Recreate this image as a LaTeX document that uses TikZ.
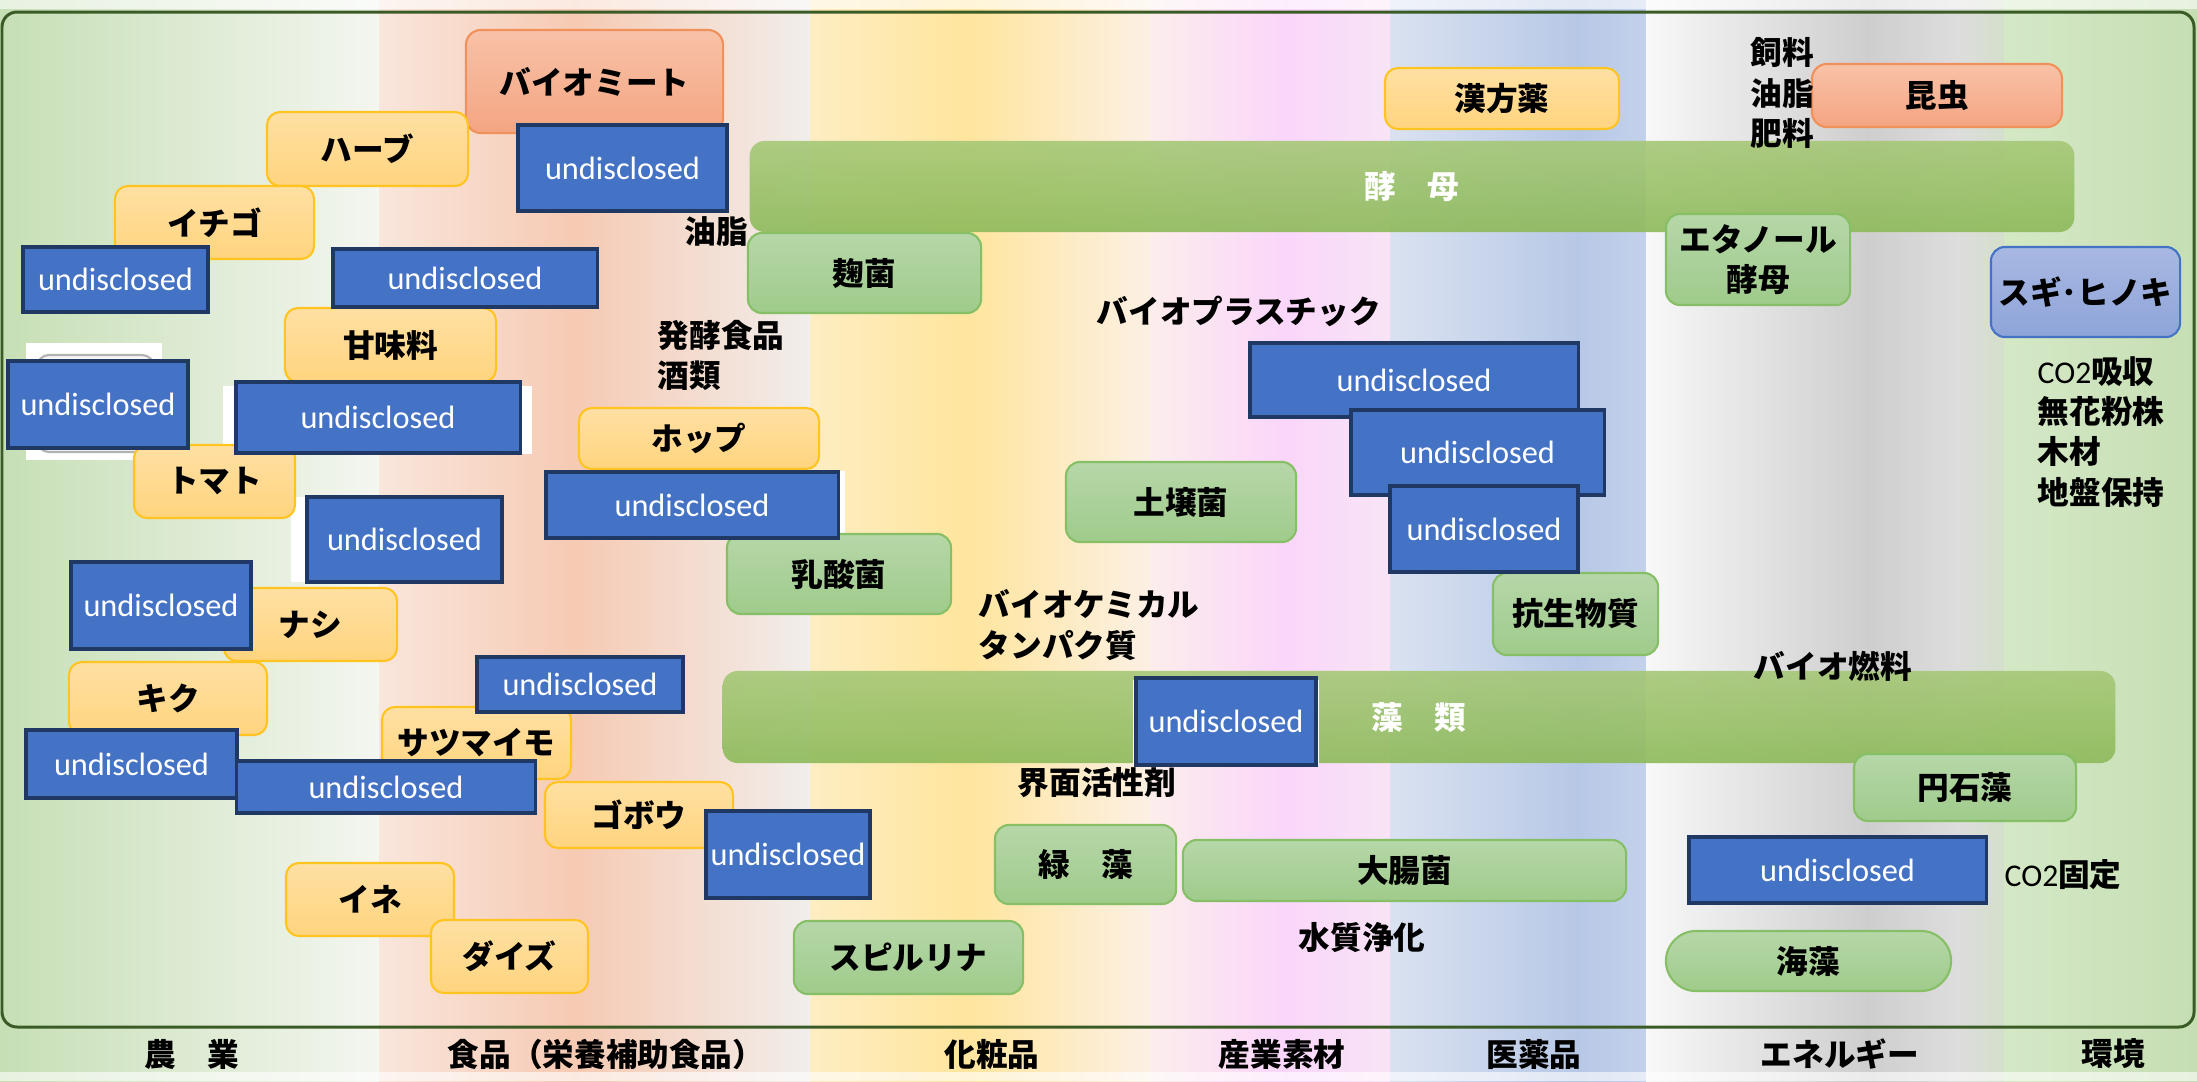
\documentclass[tikz,border=0pt]{standalone}
\usepackage{fontspec}
\setmainfont{Noto Sans CJK JP}
\newfontfamily\latinfont{Carlito}
\usepackage{tikz}

\definecolor{b1a}{HTML}{C6DFB5}\definecolor{b1b}{HTML}{F4F6F0}
\definecolor{b2a}{HTML}{F9E6DC}\definecolor{b2b}{HTML}{F6CAB3}
\definecolor{b3a}{HTML}{F6CAB3}\definecolor{b3b}{HTML}{F1EEEB}
\definecolor{b4a}{HTML}{FDEDC2}\definecolor{b4b}{HTML}{FFE59D}
\definecolor{b5a}{HTML}{FFE59D}\definecolor{b5b}{HTML}{FCF0E4}
\definecolor{b6a}{HTML}{FCEDEC}\definecolor{b6b}{HTML}{FAD6FA}
\definecolor{b7a}{HTML}{FAD6FA}\definecolor{b7b}{HTML}{F8E4F6}
\definecolor{b8a}{HTML}{DAE2F1}\definecolor{b8b}{HTML}{B7C8E6}
\definecolor{b9a}{HTML}{B7C8E6}\definecolor{b9b}{HTML}{C3D1EB}
\definecolor{b10a}{HTML}{F8F8F8}\definecolor{b10b}{HTML}{CECECE}
\definecolor{b11a}{HTML}{CECECE}\definecolor{b11b}{HTML}{DDDDDD}
\definecolor{b12a}{HTML}{DDDDDD}\definecolor{b12b}{HTML}{D4DFCB}
\definecolor{b13a}{HTML}{D4E8C6}\definecolor{b13b}{HTML}{C6DEB3}
\definecolor{ytop}{HTML}{FFE0A3}\definecolor{ybot}{HTML}{FFD47E}\definecolor{ydraw}{HTML}{FFC41F}
\definecolor{stop}{HTML}{F8C2A8}\definecolor{sbot}{HTML}{F4A582}\definecolor{sdraw}{HTML}{F0905A}
\definecolor{gtop}{HTML}{B6D7A8}\definecolor{gbot}{HTML}{9FCB8B}\definecolor{gdraw}{HTML}{86BF65}
\definecolor{bartop}{HTML}{A6C877}\definecolor{barbot}{HTML}{8DBA5A}
\definecolor{ufill}{HTML}{4472C4}\definecolor{udraw}{HTML}{1F3864}
\definecolor{ctop}{HTML}{A8B8E2}\definecolor{cbot}{HTML}{8EA4D9}
\definecolor{framec}{HTML}{3B5B26}

\begin{document}
\begin{tikzpicture}[x=0.01cm,y=-0.01cm,font=\fontsize{9}{11.4}\selectfont\bfseries]
\tikzstyle{ybox}=[draw=ydraw,line width=0.6pt,rounded corners=0.13cm,top color=ytop,bottom color=ybot,inner sep=0pt]
\tikzstyle{sbox}=[draw=sdraw,line width=0.6pt,rounded corners=0.15cm,top color=stop,bottom color=sbot,inner sep=0pt]
\tikzstyle{gbox}=[draw=gdraw,line width=0.6pt,rounded corners=0.14cm,top color=gtop,bottom color=gbot,inner sep=0pt,align=center]
\tikzstyle{bar}=[rounded corners=0.15cm,top color=bartop,bottom color=barbot,opacity=0.9,text opacity=1,text=white,inner sep=0pt]
\tikzstyle{ubox}=[draw=udraw,line width=0.9pt,fill=ufill,text=white,inner sep=0pt,font=\latinfont\mdseries\fontsize{9.2}{11}\selectfont]
\tikzstyle{cbox}=[draw=ufill,line width=0.6pt,rounded corners=0.14cm,top color=ctop,bottom color=cbot,inner sep=0pt]
\tikzstyle{lbl}=[inner sep=0pt,align=left]
\tikzstyle{cat}=[inner sep=0pt]

\useasboundingbox (0,0) rectangle (2197,1081);
% background bands
\foreach \xa/\xb/\ca/\cb in {0/379/b1a/b1b,379/575/b2a/b2b,575/810/b3a/b3b,810/967/b4a/b4b,967/1150/b5a/b5b,1150/1285/b6a/b6b,1285/1390/b7a/b7b,1390/1578/b8a/b8b,1578/1646/b9a/b9b,1646/1868/b10a/b10b,1868/1957/b11a/b11b,1957/2004/b12a/b12b,2004/2197/b13a/b13b}
  \shade[left color=\ca,right color=\cb] (\xa,0) rectangle (\xb,1081);
\fill[white,opacity=0.6] (0,0) rectangle (2197,9);
\fill[white,opacity=0.6] (0,1072) rectangle (2197,1081);
\draw[framec,line width=0.85pt,rounded corners=0.15cm] (2,12) rectangle (2194,1027);

% hidden pieces behind the covered boxes
\fill[white] (26,343) rectangle (162,460);
\draw[gray!60,line width=0.6pt,fill=gray!8,rounded corners=0.12cm] (37,355) rectangle (154,452);
\fill[white] (223,386) rectangle (532,454);
\fill[white] (291,497) rectangle (502,582);
\fill[white] (546,471) rectangle (845,538);

% yellow boxes
\node[sbox,minimum width=2.57cm,minimum height=1.03cm] (meat) at (594.5,81.5) {バイオミート};
\node[ybox,minimum width=2.01cm,minimum height=0.74cm] (herb) at (367.5,149) {ハーブ};
\node[ybox,minimum width=1.99cm,minimum height=0.73cm] (ichigo) at (214.5,222.5) {イチゴ};
\node[ybox,minimum width=2.11cm,minimum height=0.74cm] (sweet) at (390.5,345) {甘味料};
\node[ybox,minimum width=1.61cm,minimum height=0.73cm] (tomato) at (214.5,481.5) {トマト};
\node[ybox,minimum width=2.40cm,minimum height=0.61cm] (hop) at (699,438.5) {ホップ};
\node[ybox,minimum width=1.73cm,minimum height=0.73cm] (pear) at (310.5,624.5) {ナシ};
\node[ybox,minimum width=1.98cm,minimum height=0.73cm] (mum) at (168,698.5) {キク};
\node[ybox,minimum width=1.89cm,minimum height=0.72cm] (potato) at (476.5,743) {サツマイモ};
\node[ybox,minimum width=1.88cm,minimum height=0.66cm] (burdock) at (639,815) {ゴボウ};
\node[ybox,minimum width=1.68cm,minimum height=0.73cm] (rice) at (370,899.5) {イネ};
\node[ybox,minimum width=1.57cm,minimum height=0.73cm] (soy) at (509.5,956.5) {ダイズ};
\node[ybox,minimum width=2.34cm,minimum height=0.61cm] (kampo) at (1502,98.5) {漢方薬};
\node[sbox,minimum width=2.50cm,minimum height=0.63cm] (insect) at (1937,95.5) {昆虫};

% bars and green boxes
\node[bar,minimum width=13.24cm,minimum height=0.91cm] (yeast) at (1412,186.5) {酵　母};
\node[bar,minimum width=13.92cm,minimum height=0.92cm] (algae) at (1419,717) {藻　類};
\node[gbox,minimum width=2.33cm,minimum height=0.80cm] (koji) at (864.5,273) {麹菌};
\node[gbox,minimum width=2.24cm,minimum height=0.80cm] (lactic) at (839,574) {乳酸菌};
\node[gbox,minimum width=2.30cm,minimum height=0.80cm] (soil) at (1181,502) {土壌菌};
\node[gbox,minimum width=1.65cm,minimum height=0.82cm] (antibio) at (1575.5,614) {抗生物質};
\node[gbox,minimum width=1.84cm,minimum height=0.91cm] (ethanol) at (1758,259.5) {エタノール\\酵母};
\node[gbox,minimum width=1.81cm,minimum height=0.79cm] (greenalga) at (1085.5,864.5) {緑　藻};
\node[gbox,minimum width=4.43cm,minimum height=0.61cm] (ecoli) at (1404.5,870.5) {大腸菌};
\node[gbox,minimum width=2.29cm,minimum height=0.73cm] (spirulina) at (908.5,957.5) {スピルリナ};
\node[gbox,minimum width=2.22cm,minimum height=0.67cm] (cocco) at (1965,787.5) {円石藻};
\node[gbox,minimum width=2.85cm,minimum height=0.60cm,rounded corners=0.3cm] (seaweed) at (1808.5,961) {海藻};
\node[cbox,minimum width=1.89cm,minimum height=0.90cm] (cedar) at (2085.5,292) {スギ･ヒノキ};

% free labels
\node[lbl] (oil) at (716,232) {油脂};
\node[lbl,anchor=west] (ferment) at (657,355) {発酵食品\\酒類};
\node[lbl,anchor=west] (bioplastic) at (1096,311) {バイオプラスチック};
\node[lbl,anchor=west] (biochem) at (978,625) {バイオケミカル\\タンパク質};
\node[lbl] (surfact) at (1097,783) {界面活性剤};
\node[lbl] (water) at (1362,937) {水質浄化};
\node[lbl] (biofuel) at (1833,666) {バイオ燃料};
\node[lbl,anchor=west] (co2fix) at (2004,875) {{\latinfont\mdseries CO2}固定};
\node[lbl,anchor=west] (feed) at (1750,93) {飼料\\油脂\\肥料};
\node[lbl,anchor=west,text width=1.5cm] (forest) at (2037,432) {{\latinfont\mdseries CO2}吸収\\無花粉株\\木材\\地盤保持};

% undisclosed boxes
\node[ubox,minimum width=2.09cm,minimum height=0.86cm] (uA) at (622.5,168) {undisclosed};
\node[ubox,minimum width=1.85cm,minimum height=0.65cm] (uB) at (115.5,279.5) {undisclosed};
\node[ubox,minimum width=2.64cm,minimum height=0.58cm] (uC) at (465,278) {undisclosed};
\node[ubox,minimum width=1.80cm,minimum height=0.87cm] (uD) at (98,404.5) {undisclosed};
\node[ubox,minimum width=2.84cm,minimum height=0.71cm] (uE) at (378,417.5) {undisclosed};
\node[ubox,minimum width=1.95cm,minimum height=0.85cm] (uF) at (404.5,539.5) {undisclosed};
\node[ubox,minimum width=2.92cm,minimum height=0.66cm] (uG) at (692,505) {undisclosed};
\node[ubox,minimum width=3.28cm,minimum height=0.74cm] (uH) at (1414,380) {undisclosed};
\node[ubox,minimum width=2.53cm,minimum height=0.85cm] (uI) at (1477.5,452.5) {undisclosed};
\node[ubox,minimum width=1.88cm,minimum height=0.86cm] (uJ) at (1484,529) {undisclosed};
\node[ubox,minimum width=1.80cm,minimum height=0.87cm] (uK) at (161,605.5) {undisclosed};
\node[ubox,minimum width=2.11cm,minimum height=0.68cm] (uL) at (131.5,764) {undisclosed};
\node[ubox,minimum width=2.98cm,minimum height=0.52cm] (uM) at (386,787) {undisclosed};
\node[ubox,minimum width=2.06cm,minimum height=0.55cm] (uN) at (580,684.5) {undisclosed};
\node[ubox,minimum width=1.64cm,minimum height=0.87cm] (uO) at (788,854.5) {undisclosed};
\fill[white] (1133,680) rectangle (1319,765);
\node[ubox,minimum width=1.80cm,minimum height=0.87cm] (uP) at (1226,721.5) {undisclosed};
\node[ubox,minimum width=2.97cm,minimum height=0.66cm] (uQ) at (1837.5,870) {undisclosed};

% categories
\node[cat] (catagri) at (192,1054) {農　業};
\node[cat] (catfood) at (606,1054) {食品（栄養補助食品）};
\node[cat] (catcosm) at (992,1054) {化粧品};
\node[cat] (catind) at (1282,1054) {産業素材};
\node[cat] (catmed) at (1534,1054) {医薬品};
\node[cat] (catene) at (1840,1054) {エネルギー};
\node[cat] (catenv) at (2113,1054) {環境};
\end{tikzpicture}
\end{document}
